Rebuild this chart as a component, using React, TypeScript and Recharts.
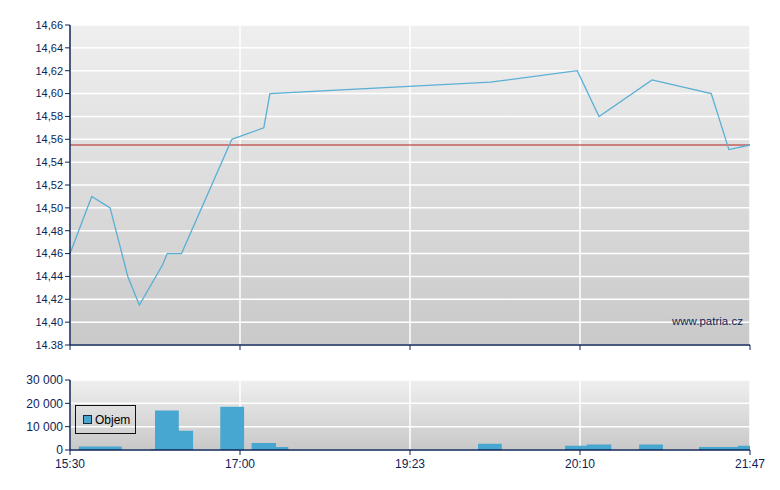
import React from 'react';
import {
  LineChart, Line, AreaChart, Area, XAxis, YAxis, CartesianGrid, ReferenceLine, Legend,
} from 'recharts';

// x positions are in percent of the (non-linear) session axis
const tickPositions = [0, 25, 50, 75, 100];
const tickLabels = ['15:30', '17:00', '19:23', '20:10', '21:47'];

const lineTimes = [0, 3.2, 5.9, 8.5, 10.2, 13.6, 14.3, 16.4, 23.8, 28.5, 29.4, 61.8, 74.6, 77.8, 85.6, 94.3, 96.9, 100];
const linePrices = [14.46, 14.51, 14.5, 14.44, 14.415, 14.45, 14.46, 14.46, 14.56, 14.57, 14.6, 14.61, 14.62, 14.58, 14.612, 14.6, 14.551, 14.555];

const referencePrice = 14.555;
const priceTicks = [14.38, 14.4, 14.42, 14.44, 14.46, 14.48, 14.5, 14.52, 14.54, 14.56, 14.58, 14.6, 14.62, 14.64, 14.66];

const volTimes = [1.3, 7.6, 11.9, 12.5, 16.0, 18.1, 22.1, 25.6, 26.7, 30.3, 32.1, 60.0, 63.5, 72.8, 76.0, 79.6, 83.7, 87.2, 92.5, 98.2, 100];
const volValues = [1500, 0, 300, 16900, 8300, 0, 18500, 0, 3000, 1300, 0, 2700, 0, 1800, 2400, 0, 2400, 0, 1300, 1800, 1800];
const volTicks = [0, 10000, 20000, 30000];

const lineData = lineTimes.map((t, i) => ({ t, p: linePrices[i] }));
const volData = volTimes.map((t, i) => ({ t, v: volValues[i] }));

const NAVY = '#0d2456';
const FONT = '"Liberation Sans", Arial, sans-serif';
const tickStyle = { fill: NAVY, fontSize: 11, fontFamily: FONT };

const fmtPrice = (v: number) => (Math.abs(v - 14.38) < 1e-6 ? v.toFixed(2) : v.toFixed(2).replace('.', ','));
const fmtVol = (v: number) => String(v).replace(/\B(?=(\d{3})+(?!\d))/g, ' ');
const fmtTime = (v: number) => {
  const i = tickPositions.indexOf(v);
  return i >= 0 ? tickLabels[i] : '';
};

const LegendBox = () => (
  <div
    style={{
      boxSizing: 'border-box', width: 61, height: 29, border: '1px solid #111',
      display: 'flex', alignItems: 'center', paddingLeft: 7, fontFamily: FONT, fontSize: 12, color: '#000',
    }}
  >
    <span style={{ display: 'inline-block', boxSizing: 'border-box', width: 9, height: 9, background: '#47a7d0', border: '1px solid #1b2b3b', marginRight: 3 }} />
    <span>Objem</span>
  </div>
);

export default function App() {
  return (
    <div style={{ position: 'absolute', left: 0, top: 0, width: 780, height: 490, background: '#fff' }}>
      <div style={{ position: 'absolute', left: 0, top: 0 }}>
        <LineChart width={780} height={360} data={lineData} margin={{ top: 25, right: 30, bottom: 0, left: 0 }}>
          <defs>
            <linearGradient id="bg1" x1="0" y1="0" x2="0" y2="1">
              <stop offset="0%" stopColor="#efefef" />
              <stop offset="100%" stopColor="#c9c9c9" />
            </linearGradient>
          </defs>
          <CartesianGrid fill="url(#bg1)" stroke="#ffffff" strokeWidth={1.5} />
          <XAxis
            dataKey="t" type="number" domain={[0, 100]} ticks={tickPositions} height={15}
            axisLine={{ stroke: NAVY, strokeWidth: 1.5 }} tickLine={{ stroke: NAVY }} tickSize={5}
            tickFormatter={() => ''} tick={tickStyle}
          />
          <YAxis
            type="number" domain={[14.38, 14.66]} ticks={priceTicks} width={70} interval={0}
            axisLine={{ stroke: NAVY, strokeWidth: 1.5 }} tickLine={{ stroke: NAVY }} tickSize={5} tickMargin={2}
            tickFormatter={fmtPrice} tick={tickStyle}
          />
          <ReferenceLine y={referencePrice} stroke="#b41c1c" strokeWidth={1} ifOverflow="extendDomain" />
          <Line
            type="linear" dataKey="p" stroke="#5aafd4" strokeWidth={1.3} dot={false} activeDot={false}
            isAnimationActive={false}
          />
        </LineChart>
      </div>
      <div
        style={{ position: 'absolute', left: 672, top: 315, fontFamily: FONT, fontSize: 11.5, color: NAVY }}
      >
        www.patria.cz
      </div>
      <div style={{ position: 'absolute', left: 0, top: 360 }}>
        <AreaChart width={780} height={120} data={volData} margin={{ top: 20, right: 30, bottom: 0, left: 0 }}>
          <defs>
            <linearGradient id="bg2" x1="0" y1="0" x2="0" y2="1">
              <stop offset="0%" stopColor="#efefef" />
              <stop offset="100%" stopColor="#c8c8c8" />
            </linearGradient>
          </defs>
          <CartesianGrid fill="url(#bg2)" stroke="#ffffff" strokeWidth={1.5} />
          <XAxis
            dataKey="t" type="number" domain={[0, 100]} ticks={tickPositions} height={30} interval={0}
            axisLine={{ stroke: NAVY, strokeWidth: 1.5 }} tickLine={{ stroke: NAVY }} tickSize={5} tickMargin={4}
            tickFormatter={fmtTime} tick={{ ...tickStyle, fontSize: 12 }}
          />
          <YAxis
            type="number" domain={[0, 30000]} ticks={volTicks} width={70} interval={0}
            axisLine={{ stroke: NAVY, strokeWidth: 1.5 }} tickLine={{ stroke: NAVY }} tickSize={5} tickMargin={2}
            tickFormatter={fmtVol} tick={{ ...tickStyle, fontSize: 12 }}
          />
          <Legend
            layout="horizontal" verticalAlign="middle" align="center" content={<LegendBox />}
            wrapperStyle={{ position: 'absolute', left: 75, top: 45, width: 61, height: 29 }}
          />
          <Area
            type="stepAfter" dataKey="v" stroke="none" fill="#47a7d0" fillOpacity={1} dot={false}
            activeDot={false} isAnimationActive={false}
          />
        </AreaChart>
      </div>
    </div>
  );
}
